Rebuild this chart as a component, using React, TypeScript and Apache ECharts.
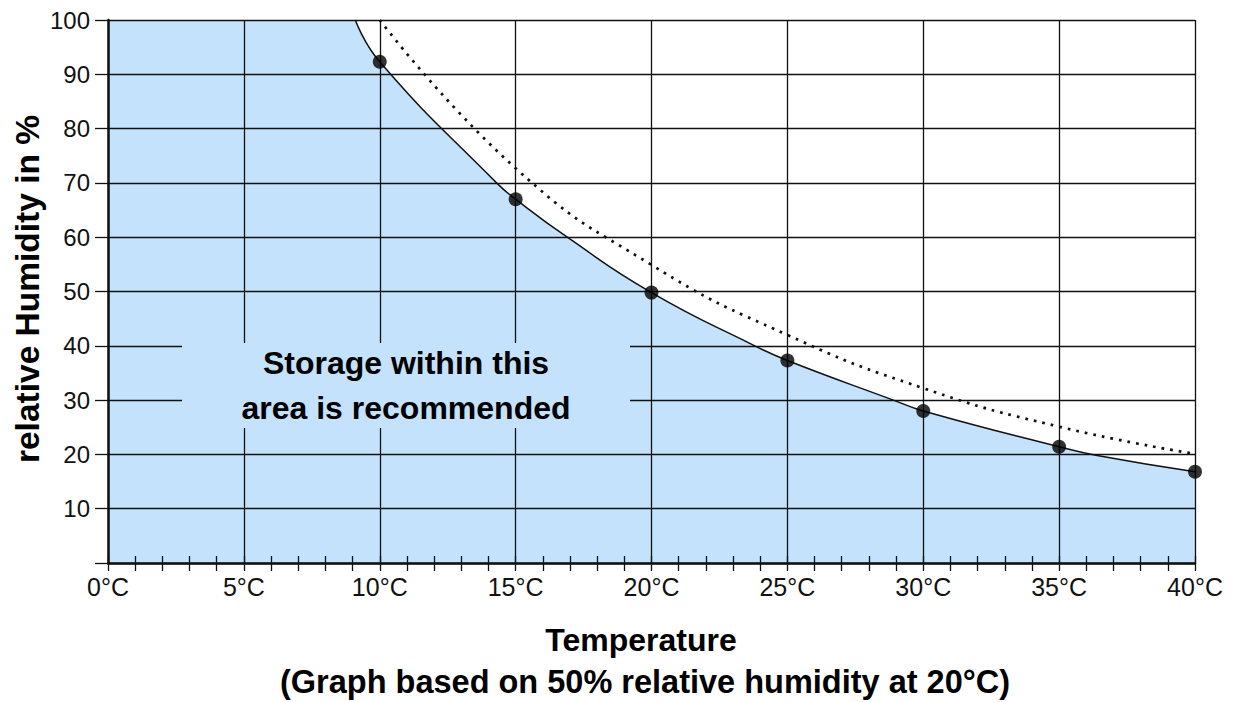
import React, { useEffect, useRef } from "react";
import * as echarts from "echarts";

// Temperature (°C) and relative humidity (%)
const markerTemps = [10, 15, 20, 25, 30, 35, 40];
const markerHumidity = [92.3, 67, 49.8, 37.3, 28, 21.4, 16.8];

// solid curve (limit of recommended storage), incl. grid-line crossings
const curveTemps = [9.1, 10, 14.3, 15, 16.9, 20, 23.8, 25, 28.9, 30, 35, 36.4, 40];
const curveHumidity = [100, 92.3, 70, 67, 60, 49.8, 40, 37.3, 30, 28, 21.4, 19.8, 16.8];

// flat top of the shaded area (left of the curve, overlapping its start slightly)
const flatTemps = [0, 9.15];
const flatHumidity = [100, 100];

// dotted reference curve
const dottedTemps = [10, 15, 20, 25, 30, 35, 40];
const dottedHumidity = [100, 72.7, 54.9, 42, 32.2, 25.1, 20.1];

const xTitle = "Temperature";
const xSubtitle = "(Graph based on 50% relative humidity at 20°C)";
const yTitle = "relative Humidity in %";
const boxText = "Storage within this\narea is recommended";

const FONT = "'Liberation Sans', Arial, Helvetica, sans-serif";
const BLUE = "#c4e2fb";
const INK = "#111111";

const zip = (xs: number[], ys: number[]) => xs.map((x, i) => [x, ys[i]]);

export default function App() {
  const ref = useRef<HTMLDivElement>(null);

  useEffect(() => {
    document.body.style.margin = "0";
    const chart = echarts.init(ref.current!, null, { renderer: "svg" });
    const titleStyle = (text: string, size: number) => ({
      text,
      fontSize: size,
      fontWeight: "bold",
      fontFamily: FONT,
      fill: "#000000",
      align: "center",
      verticalAlign: "middle",
      textAlign: "center",
      textVerticalAlign: "middle",
    });
    const option: any = {
      animation: false,
      backgroundColor: "#ffffff",
      grid: { left: 108, right: 38, top: 20, bottom: 139 },
      xAxis: [
        {
          type: "value",
          position: "bottom",
          z: 2,
          min: 0,
          max: 40,
          interval: 5,
          axisLine: { show: true, lineStyle: { color: INK, width: 2.5 } },
          axisTick: { show: true, inside: false, length: 8, lineStyle: { color: INK, width: 1.3 } },
          minorTick: { show: true, splitNumber: 5, length: 8, lineStyle: { color: INK, width: 1.3 } },
          splitLine: { show: true, lineStyle: { color: INK, width: 1.3 } },
          axisLabel: {
            formatter: (v: number) => `${v}°C`,
            fontSize: 25,
            fontFamily: FONT,
            color: INK,
            margin: 11,
          },
        },
        {
          type: "value",
          position: "bottom",
          z: 2,
          min: 0,
          max: 40,
          interval: 5,
          axisLine: { show: false },
          axisTick: { show: true, inside: true, length: 7, lineStyle: { color: INK, width: 1.3 } },
          minorTick: { show: true, splitNumber: 5, length: 7, lineStyle: { color: INK, width: 1.3 } },
          splitLine: { show: false },
          axisLabel: { show: false },
        },
      ],
      yAxis: {
        type: "value",
        z: 2,
        min: 0,
        max: 100,
        interval: 10,
        axisLine: { show: true, lineStyle: { color: INK, width: 2.5 } },
        axisTick: { show: true, inside: false, length: 13, lineStyle: { color: INK, width: 1.3 } },
        splitLine: { show: true, lineStyle: { color: INK, width: 1.3 } },
        axisLabel: {
          formatter: (v: number) => (v === 0 ? "" : String(v)),
          fontSize: 24,
          fontFamily: FONT,
          color: INK,
          margin: 18,
        },
      },
      series: [
        {
          type: "line",
          data: zip(flatTemps, flatHumidity),
          showSymbol: false,
          lineStyle: { width: 0 },
          areaStyle: { color: BLUE, opacity: 1 },
          z: 1,
        },
        {
          type: "line",
          data: zip(curveTemps, curveHumidity),
          smooth: 0.5,
          showSymbol: false,
          lineStyle: { width: 0 },
          areaStyle: { color: BLUE, opacity: 1 },
          z: 1,
        },
        {
          type: "line",
          data: zip(curveTemps, curveHumidity),
          smooth: 0.5,
          showSymbol: false,
          lineStyle: { color: INK, width: 1.5 },
          z: 3,
        },
        {
          type: "line",
          data: zip(dottedTemps, dottedHumidity),
          smooth: 0.5,
          showSymbol: false,
          lineStyle: { color: INK, width: 2.7, type: [2.7, 6] },
          z: 3,
        },
        {
          type: "scatter",
          data: zip(markerTemps, markerHumidity),
          symbol: "circle",
          symbolSize: 14,
          itemStyle: { color: "#000000" },
          z: 5,
        },
      ],
      graphic: [
        {
          type: "rect",
          z: 100,
          shape: { x: 182, y: 343, width: 448, height: 85 },
          style: { fill: BLUE },
        },
        {
          type: "text",
          z: 101,
          x: 406,
          y: 385,
          style: { ...titleStyle(boxText, 32), lineHeight: 45 },
        },
        {
          type: "text",
          z: 101,
          x: 641,
          y: 640,
          style: titleStyle(xTitle, 32),
        },
        {
          type: "text",
          z: 101,
          x: 645,
          y: 682,
          style: titleStyle(xSubtitle, 32.5),
        },
        {
          type: "text",
          z: 101,
          x: 27,
          y: 289,
          rotation: Math.PI / 2,
          style: titleStyle(yTitle, 33.5),
        },
      ],
    };
    chart.setOption(option);
    return () => chart.dispose();
  }, []);

  return <div ref={ref} style={{ width: 1233, height: 702 }} />;
}
